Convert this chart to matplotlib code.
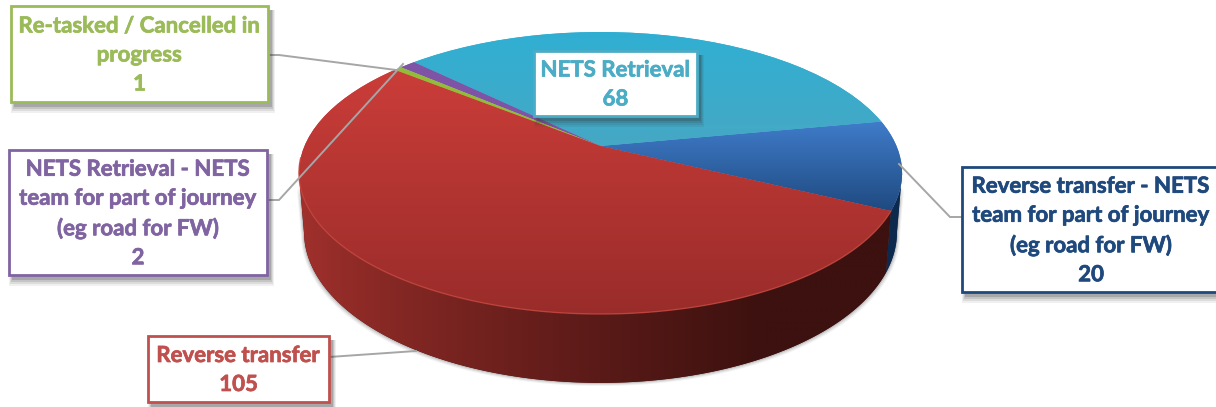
import matplotlib
matplotlib.use('Agg')
import matplotlib.pyplot as plt
import matplotlib.patheffects as pe
import numpy as np
from matplotlib.colors import LinearSegmentedColormap
from matplotlib.patches import Rectangle
from matplotlib.transforms import Transform

plt.rcParams['font.family'] = ['Lato', 'DejaVu Sans']

# chart data, pie order is counter clockwise from the blue slice
categories = [
    'Reverse transfer - NETS\nteam for part of journey\n(eg road for FW)',
    'NETS Retrieval',
    'NETS Retrieval - NETS\nteam for part of journey\n(eg road for FW)',
    'Re-tasked / Cancelled in\nprogress',
    'Reverse transfer',
]
values = [20, 68, 2, 1, 105]

# styles
label_colors = ['#1f497d', '#4bacc6', '#8064a2', '#9bbb59', '#c0504d']
top_colors = [('#3f7cca', '#1f4a80'),
              ('#30afd3', '#46a8c4'),
              ('#7f53a6', '#7f53a6'),
              ('#93bc3a', '#93bc3a'),
              ('#cb3d39', '#992c2a')]
wall_colors = [('#0d2a4e', '#0d2a4e'),
               ('#1e6d85', '#1e6d85'),
               ('#4a2f66', '#4a2f66'),
               ('#5a7426', '#5a7426'),
               ('#a0302c', '#3c110f')]
leader_color = '#a6a6a6'

# layout in pixels: left, top, right, bottom
box_rects = [(962, 167, 1220, 292),
             (534, 51, 697, 116),
             (9, 150, 267, 275),
             (11, 6, 268, 102),
             (148, 336, 329, 402)]
leaders = [[(962, 217), (950, 217), (899, 164)],
           [],
           [(267, 200), (279, 200), (403, 64)],
           [(268, 55), (279, 55), (396, 70)],
           [(329, 357), (416, 351)]]
startangle = -26
center_x, center_y = 600.5, 173
half_w, half_h = 296, 141
apex_shift = 27
bottom_center_y = 232
bottom_scale_x = 0.983
bottom_scale_y = 1.07


def tilt(u, v, cy=center_y, sx=1.0, sy=1.0):
    k = apex_shift / half_h
    w = 1 + k * v
    x = center_x + sx * half_w * u / w
    y = cy - sy * (apex_shift + half_h * v) / w
    return x, y


class PieTilt(Transform):
    input_dims = 2
    output_dims = 2
    is_affine = False
    has_inverse = False

    def transform_non_affine(self, values):
        xy = np.asarray(values, dtype=float)
        x, y = tilt(xy[:, 0], xy[:, 1])
        return np.column_stack([x, y])


def rim(theta_deg, bottom=False):
    t = np.radians(theta_deg)
    if bottom:
        return tilt(np.cos(t), np.sin(t), bottom_center_y,
                    bottom_scale_x, bottom_scale_y)
    return tilt(np.cos(t), np.sin(t))


fig = plt.figure(figsize=(12.16, 4.07), dpi=100)
ax = fig.add_axes([0, 0, 1, 1])

wedges, _ = ax.pie(
    values,
    startangle=startangle,
    colors=[c[0] for c in top_colors],
    wedgeprops={'linewidth': 0, 'zorder': 5})
ax.set_aspect('auto')
ax.axis('off')

tilt_tf = PieTilt() + ax.transData

# side wall of each slice, only the part facing the viewer
shade = np.clip((np.linspace(280, 920, 256) - 305) / 460, 0, 1) ** 0.8
wall_polys = []
for wedge, wall in zip(wedges, wall_colors):
    tt = np.linspace(wedge.theta1, wedge.theta2, 200)
    tt = tt[np.sin(np.radians(tt)) < -apex_shift / half_h]
    if len(tt) < 2:
        continue
    x_top, y_top = rim(tt)
    x_bot, y_bot = rim(tt, bottom=True)
    wall_x = np.r_[x_top, x_bot[::-1]]
    wall_y = np.r_[y_top, y_bot[::-1]]
    wall_polys.append((wall_x, wall_y))
    poly = ax.fill(wall_x, wall_y, color=wall[1], lw=0, zorder=2)[0]
    cmap = LinearSegmentedColormap.from_list('wall', list(wall))
    im = ax.imshow(shade.reshape(1, -1), cmap=cmap, aspect='auto',
                   vmin=0, vmax=1, extent=(280, 920, 407, 0), zorder=2.5)
    im.set_clip_path(poly)

# soft shadow under the pie
for wall_x, wall_y in wall_polys:
    for grow, alpha in [(3, 0.08), (2, 0.12), (1, 0.2)]:
        ax.fill(wall_x + np.sign(wall_x - center_x) * grow, wall_y + grow,
                color='#555555', alpha=alpha, lw=0, zorder=1.5)

# top face, each slice has its own vertical gradient
for wedge, tops in zip(wedges, top_colors):
    wedge.set_transform(tilt_tf)
    px, py = rim(np.linspace(wedge.theta1, wedge.theta2, 50))
    y0 = py.min()
    y1 = max(py.max(), center_y - apex_shift)
    cmap = LinearSegmentedColormap.from_list('top', list(tops))
    im = ax.imshow(np.linspace(0, 1, 128).reshape(-1, 1),
                   cmap=cmap, aspect='auto',
                   extent=(280, 920, y1, y0), zorder=6)
    im.set_clip_path(wedge)
ax.set_xlim(0, 1216)
ax.set_ylim(407, 0)

# light edge along the front rim of the big slice
red = wedges[-1]
rim_x, rim_y = rim(np.linspace(185, red.theta2, 120))
ax.plot(rim_x, rim_y, color='#c4473f', lw=1, alpha=0.8, zorder=7)

# leader lines
for line in leaders:
    if line:
        ax.plot([p[0] for p in line], [p[1] for p in line],
                color=leader_color, lw=1.4, zorder=8, solid_joinstyle='miter')

# labels with a drop shadow
for name, val, color, (l, t, r, b) in zip(categories, values, label_colors,
                                          box_rects):
    for grow, alpha in [(7, 0.07), (5, 0.1), (3, 0.14), (1, 0.2)]:
        ax.add_patch(Rectangle((l + 3 - grow / 2, t + 4),
                               r - l + grow, b - t + grow,
                               facecolor='#333333', edgecolor='none',
                               alpha=alpha, zorder=9))
    ax.add_patch(Rectangle((l, t), r - l, b - t, facecolor='white',
                           edgecolor=color, lw=2, zorder=10))
    text_x = (l + min(r, 1216 + 4)) / 2
    ax.text(text_x, (t + b) / 2 + 1, f'{name}\n{val}', color=color,
            fontsize=16, fontweight='bold', ha='center', va='center',
            linespacing=1.47, zorder=11,
            path_effects=[pe.withStroke(linewidth=0.5, foreground=color)])

fig.savefig('out.png', dpi=100)
plt.close(fig)
